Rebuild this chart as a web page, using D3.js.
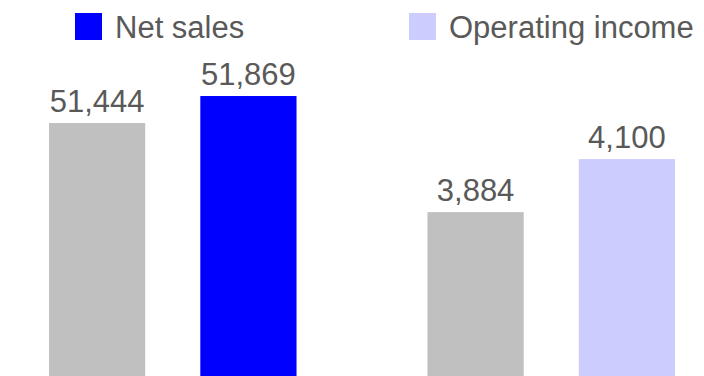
<!DOCTYPE html>
<html>
<head>
<meta charset="utf-8">
<script src="https://cdn.jsdelivr.net/npm/d3@7"></script>
<style>
  html, body { margin: 0; padding: 0; background: #fff; }
  svg { display: block; }
  text { font-family: "Liberation Sans", Arial, sans-serif; fill: #595959; }
</style>
</head>
<body>
<script>
// Metrics and the two periods shown for each
const metrics = ["Net sales", "Operating income"];
const periods = ["Previous", "Current"];
const netSales = [51444, 51869];
const operatingIncome = [3884, 4100];
const legendLabels = ["Net sales", "Operating income"];

const W = 704, H = 376;
const svg = d3.select("body").append("svg").attr("width", W).attr("height", H);

// Each metric has its own value axis, cut off below so the change stands out
const yScales = {
  "Net sales": d3.scaleLinear().domain([47462, 52436]).range([H, 60]),
  "Operating income": d3.scaleLinear().domain([3216, 4504]).range([H, 60])
};
const seriesValues = { "Net sales": netSales, "Operating income": operatingIncome };
const currentColor = { "Net sales": "#0000FF", "Operating income": "#CCCCFF" };
const previousColor = "#C0C0C0";

const x0 = d3.scaleBand().domain(metrics).range([49, 675]).paddingInner(0.346);
const x1 = d3.scaleBand().domain(periods).range([0, x0.bandwidth()]).paddingInner(0.364);

const fmt = d3.format(",");

metrics.forEach(m => {
  const g = svg.append("g").attr("transform", `translate(${x0(m)},0)`);
  const y = yScales[m];
  const rows = periods.map((p, i) => ({ period: p, value: seriesValues[m][i] }));

  g.selectAll("rect").data(rows).enter().append("rect")
    .attr("x", d => x1(d.period))
    .attr("width", x1.bandwidth())
    .attr("y", d => y(d.value))
    .attr("height", d => H - y(d.value))
    .attr("fill", d => d.period === "Current" ? currentColor[m] : previousColor);

  g.selectAll("text.val").data(rows).enter().append("text")
    .attr("class", "val")
    .attr("x", d => x1(d.period) + x1.bandwidth() / 2)
    .attr("y", d => y(d.value) - 11)
    .attr("text-anchor", "middle")
    .style("font-size", "31px")
    .text(d => fmt(d.value));
});

// Legend across the top
const legendX = [75, 409];
const legend = svg.selectAll("g.legend").data(legendLabels).enter().append("g")
  .attr("class", "legend")
  .attr("transform", (d, i) => `translate(${legendX[i]},13)`);
legend.append("rect")
  .attr("width", 27).attr("height", 27)
  .attr("fill", d => currentColor[d]);
legend.append("text")
  .attr("x", 40).attr("y", 24.5)
  .style("font-size", "31px")
  .text(d => d);
</script>
</body>
</html>
